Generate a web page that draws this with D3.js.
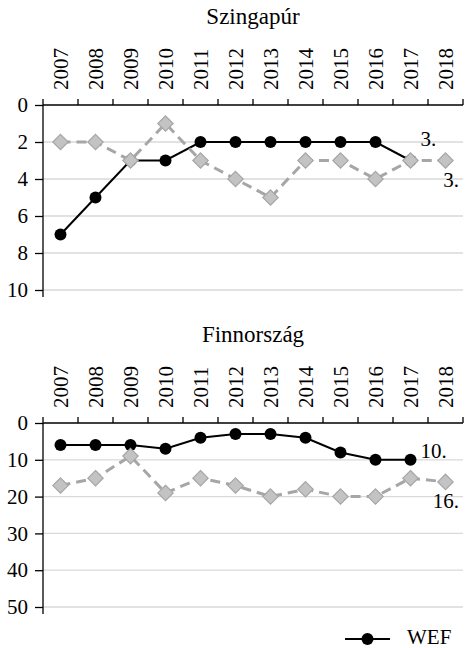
<!DOCTYPE html>
<html>
<head>
<meta charset="utf-8">
<script src="https://cdn.jsdelivr.net/npm/d3@7"></script>
<style>
  body { margin: 0; background: #fff; }
  svg { font-family: "Liberation Serif", serif; }
</style>
</head>
<body>
<div class="main"></div>
<script>
const width = 467;
const height = 648;

const years = ['2007','2008','2009','2010','2011','2012','2013','2014','2015','2016','2017','2018'];

// Szingapúr
const sgTicks = [0, 2, 4, 6, 8, 10];
const sgWef = [7, 5, 3, 3, 2, 2, 2, 2, 2, 2, 3, null];
const sgOther = [2, 2, 3, 1, 3, 4, 5, 3, 3, 4, 3, 3];

// Finnország
const fiTicks = [0, 10, 20, 30, 40, 50];
const fiWef = [6, 6, 6, 7, 4, 3, 3, 4, 8, 10, 10, null];
const fiOther = [17, 15, 9, 19, 15, 17, 20, 18, 20, 20, 15, 16];

const legendLabels = ['WEF'];

const fs = '21px';

const svg = d3.select('.main')
  .append('svg')
  .attr('width', width)
  .attr('height', height);

const x = d3.scaleBand()
  .domain(years)
  .range([43, 463]);

function panel(title, top, bottom, ticks, wef, other, wefLab, otherLab, wefDy) {
  const g = svg.append('g');
  const y = d3.scaleLinear()
    .domain([0, d3.max(ticks)])
    .range([top, bottom]);

  g.append('text')
    .attr('x', 253)
    .attr('y', top - 81)
    .attr('text-anchor', 'middle')
    .style('font-size', '23px')
    .text(title);

  // grid
  g.append('g')
    .selectAll('line')
    .data(ticks.slice(1))
    .enter()
    .append('line')
    .attr('x1', 43).attr('x2', 463)
    .attr('y1', d => y(d)).attr('y2', d => y(d))
    .attr('stroke', '#d9d9d9')
    .attr('stroke-width', 1.3);

  // y axis
  const ya = g.append('g')
    .attr('transform', 'translate(43,0)')
    .call(d3.axisLeft(y).tickValues(ticks).tickSize(8).tickPadding(7));
  ya.select('.domain').attr('d', `M0,${top}V${bottom + 7}`).attr('stroke-width', 1.3);
  ya.selectAll('.tick line').attr('stroke-width', 1.3);
  ya.selectAll('text')
    .style('font-family', '"Liberation Serif", serif')
    .style('font-size', fs);

  // top axis with year labels
  const xa = g.append('g')
    .attr('transform', `translate(0,${top})`)
    .call(d3.axisTop(x).tickSize(0).tickPadding(0));
  xa.select('.domain').remove();
  xa.selectAll('text')
    .style('font-family', '"Liberation Serif", serif')
    .style('font-size', fs)
    .attr('transform', 'translate(0,-15) rotate(-90)')
    .attr('text-anchor', 'start')
    .attr('x', 0)
    .attr('y', 0)
    .attr('dy', '0.35em');
  const edges = years.map(d => x(d)).concat([x.range()[1]]);
  g.append('g')
    .selectAll('line')
    .data(edges)
    .enter()
    .append('line')
    .attr('x1', d => d).attr('x2', d => d)
    .attr('y1', top).attr('y2', top - 6)
    .attr('stroke', '#000')
    .attr('stroke-width', 1.3);
  g.append('line')
    .attr('x1', 43).attr('x2', 463)
    .attr('y1', top).attr('y2', top)
    .attr('stroke', '#000')
    .attr('stroke-width', 1.3);

  const cx = (d, i) => x(years[i]) + x.bandwidth() / 2;

  // WEF line
  const line = d3.line()
    .defined(d => d !== null)
    .x(cx)
    .y(d => y(d));
  g.append('path')
    .datum(wef)
    .attr('d', line)
    .attr('fill', 'none')
    .attr('stroke', '#000')
    .attr('stroke-width', 2);
  g.append('g')
    .selectAll('circle')
    .data(wef.map((v, i) => ({v, i})).filter(d => d.v !== null))
    .enter()
    .append('circle')
    .attr('cx', d => cx(d.v, d.i))
    .attr('cy', d => y(d.v))
    .attr('r', 6)
    .attr('fill', '#000');

  // other series (grey dashed, diamonds)
  g.append('path')
    .datum(other)
    .attr('d', line)
    .attr('fill', 'none')
    .attr('stroke', '#a6a6a6')
    .attr('stroke-width', 3)
    .attr('stroke-dasharray', '10,6');
  g.append('g')
    .selectAll('path')
    .data(other.map((v, i) => ({v, i})))
    .enter()
    .append('path')
    .attr('d', d3.symbol(d3.symbolDiamond2, 150))
    .attr('transform', d => `translate(${cx(d.v, d.i)},${y(d.v)})`)
    .attr('fill', '#c3c3c3')
    .attr('stroke', '#a6a6a6')
    .attr('stroke-width', 1.2);

  // end labels
  const lastW = wef.filter(d => d !== null).length - 1;
  g.append('text')
    .attr('x', cx(wef[lastW], lastW) + 10)
    .attr('y', y(wef[lastW]) + wefDy)
    .style('font-size', fs)
    .text(wefLab);
  const lastO = other.length - 1;
  g.append('text')
    .attr('x', 459)
    .attr('y', y(other[lastO]) + 26)
    .attr('text-anchor', 'end')
    .style('font-size', fs)
    .text(otherLab);
}

panel('Szingapúr', 105, 290, sgTicks, sgWef, sgOther, '3.', '3.', -15);
panel('Finnország', 423, 607, fiTicks, fiWef, fiOther, '10.', '16.', -2);

// legend
const leg = svg.append('g');
leg.append('line')
  .attr('x1', 345).attr('x2', 390)
  .attr('y1', 639).attr('y2', 639)
  .attr('stroke', '#000')
  .attr('stroke-width', 2);
leg.append('circle')
  .attr('cx', 367.5).attr('cy', 639)
  .attr('r', 6)
  .attr('fill', '#000');
leg.append('text')
  .attr('x', 407).attr('y', 644)
  .style('font-size', fs)
  .text(legendLabels[0]);
</script>
</body>
</html>
